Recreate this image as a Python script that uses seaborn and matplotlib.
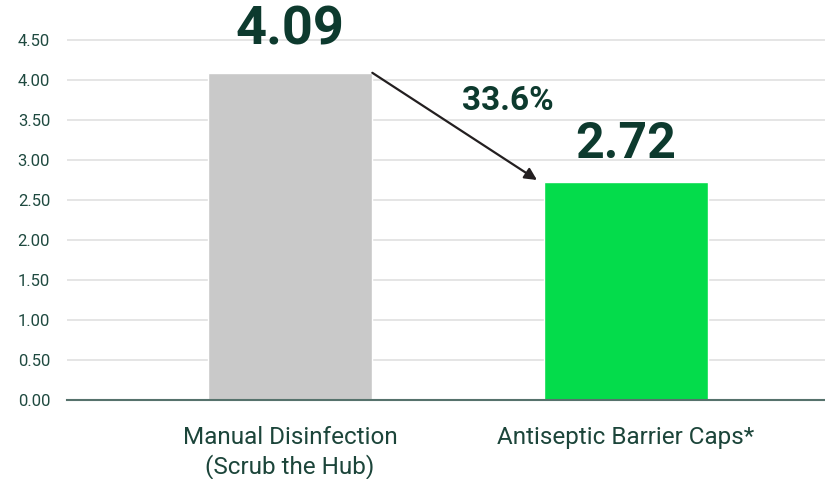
import matplotlib
matplotlib.use("Agg")
import matplotlib.pyplot as plt
import seaborn as sns
import pandas as pd

categories = ["Manual Disinfection\n(Scrub the Hub)", "Antiseptic Barrier Caps*"]
values = [4.09, 2.72]
bar_colors = ["#c9c9c9", "#04dc4b"]
reduction_label = "33.6%"
y_ticks = [0.0, 0.5, 1.0, 1.5, 2.0, 2.5, 3.0, 3.5, 4.0, 4.5]

sns.set_theme(style="white")
plt.rcParams["font.family"] = ["Roboto", "DejaVu Sans"]

dark = "#0d3a2e"
df = pd.DataFrame({"group": categories, "value": values})

fig = plt.figure(figsize=(8.25, 4.79), dpi=100)
ax = fig.add_axes([0.081, 0.165, 0.919, 0.835])

sns.barplot(data=df, x="group", y="value", hue="group", palette=bar_colors,
            width=0.49, legend=False, ax=ax, zorder=3, saturation=1)

ax.set_ylim(0, 5)
ax.set_xlim(-0.664, 1.592)
ax.set_yticks(y_ticks)
ax.set_yticklabels([f"{t:.2f}" for t in y_ticks])
ax.yaxis.grid(True, color="#e3e3e3", linewidth=1.3, zorder=0)
ax.set_axisbelow(True)
ax.set_xlabel("")
ax.set_ylabel("")

for s in ["top", "right", "left"]:
    ax.spines[s].set_visible(False)
ax.spines["bottom"].set_color("#56726c")
ax.spines["bottom"].set_linewidth(1.5)
ax.spines["bottom"].set_zorder(4)

ax.tick_params(axis="y", length=0, labelsize=12, labelcolor="#1f4a40", pad=12)
ax.tick_params(axis="x", length=0, labelsize=17.5, labelcolor="#1c453a", pad=19)
for lbl in ax.get_xticklabels():
    lbl.set_fontweight("normal")
    lbl.set_linespacing(1.22)
    lbl.set_verticalalignment("top")

# value labels above each bar
ax.text(0, values[0] + 0.53, f"{values[0]:.2f}", ha="center", va="center",
        fontsize=39, fontweight="bold", color=dark)
ax.text(1, values[1] + 0.47, f"{values[1]:.2f}", ha="center", va="center",
        fontsize=36, fontweight="bold", color=dark)

# arrow showing the reduction between the two bars
ax.annotate("", xy=(0.735, 2.75), xytext=(0.245, values[0]),
            arrowprops=dict(arrowstyle="-|>", color="#231f20", lw=1.6,
                            mutation_scale=18, shrinkA=0, shrinkB=0))
ax.text(0.649, 3.74, reduction_label, ha="center", va="center",
        fontsize=24, fontweight="bold", color=dark)

fig.savefig("out.png", dpi=100)
